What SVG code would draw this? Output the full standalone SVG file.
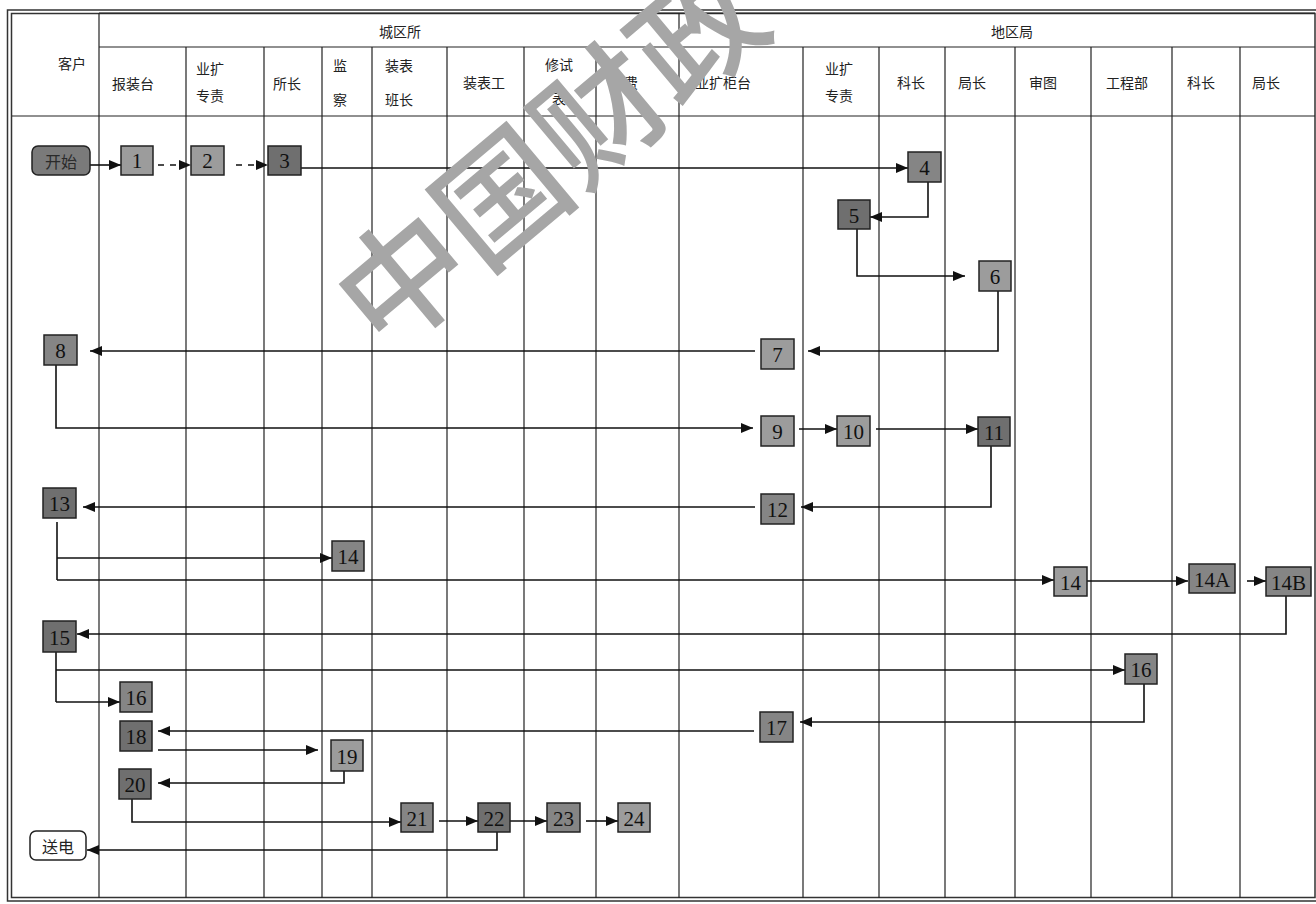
<svg xmlns="http://www.w3.org/2000/svg" width="1316" height="904" viewBox="0 0 1316 904">
<defs>
<marker id="ah" viewBox="0 0 12 10" refX="12" refY="5" markerWidth="12" markerHeight="10" markerUnits="userSpaceOnUse" orient="auto">
<path d="M0,0 L12,5 L0,10 Z" fill="#111"/>
</marker>
<style>
.grid{stroke:#222;stroke-width:1.2;fill:none}
.frame{stroke:#333;stroke-width:1.5;fill:none}
.hd{font-family:"Noto Sans CJK SC","Noto Sans CJK TC",sans-serif;font-size:14px;fill:#222;text-anchor:middle;dominant-baseline:central}
.box{stroke:#222;stroke-width:1.5}
.d{fill:#6f6f6f}.m{fill:#858585}.l{fill:#9c9c9c}
.num{font-family:"Liberation Serif",serif;font-size:21px;fill:#111;text-anchor:middle;dominant-baseline:central}
.con{stroke:#111;stroke-width:1.6;fill:none}
.arr{marker-end:url(#ah)}
.dash{stroke-dasharray:6 6}
.cjk{font-family:"Noto Sans CJK SC",sans-serif;font-size:16px;text-anchor:middle;dominant-baseline:central}
.wm{font-family:"Noto Sans CJK SC",sans-serif;font-size:128px;font-weight:500;fill:#a6a6a6;text-anchor:middle;dominant-baseline:central}
</style>
</defs>
<rect width="1316" height="904" fill="#fff"/>
<g id="frame">
<rect class="frame" x="7.5" y="10" width="1320" height="891"/>
<rect class="frame" x="11.5" y="13.5" width="1303.5" height="884"/>
<line class="grid" x1="99" y1="13" x2="1315" y2="13"/>
<line class="grid" x1="99" y1="47" x2="1315" y2="47"/>
<line class="grid" x1="12" y1="116" x2="1315" y2="116"/>
<line class="grid" x1="99" y1="13" x2="99" y2="898"/>
<line class="grid" x1="679" y1="13" x2="679" y2="898"/>
<path class="grid" d="M186,47V898 M264,47V898 M322,47V898 M372,47V898 M447,47V898 M524,47V898 M596,47V898 M803,47V898 M879,47V898 M945,47V898 M1015,47V898 M1091,47V898 M1172,47V898 M1240,47V898"/>
</g>
<g id="headers">
<text class="hd" x="72" y="63">客户</text>
<text class="hd" x="400" y="31">城区所</text>
<text class="hd" x="1012" y="31">地区局</text>
<text class="hd" x="133" y="83">报装台</text>
<text class="hd" x="210" y="68">业扩</text>
<text class="hd" x="210" y="95">专责</text>
<text class="hd" x="287" y="83">所长</text>
<text class="hd" x="340" y="65">监</text>
<text class="hd" x="340" y="99">察</text>
<text class="hd" x="399" y="65">装表</text>
<text class="hd" x="399" y="99">班长</text>
<text class="hd" x="484" y="82">装表工</text>
<text class="hd" x="559" y="64">修试</text>
<text class="hd" x="559" y="98">表</text>
<text class="hd" x="624" y="82">电费</text>
<text class="hd" x="723" y="82">业扩柜台</text>
<text class="hd" x="839" y="68">业扩</text>
<text class="hd" x="839" y="95">专责</text>
<text class="hd" x="911" y="82">科长</text>
<text class="hd" x="972" y="82">局长</text>
<text class="hd" x="1043" y="82">审图</text>
<text class="hd" x="1127" y="82">工程部</text>
<text class="hd" x="1201" y="82">科长</text>
<text class="hd" x="1266" y="82">局长</text>
</g>
<g id="connectors">
<path class="con arr" d="M90,165H121"/>
<path class="con arr dash" d="M158,165H191"/>
<path class="con arr dash" d="M236,165H268"/>
<path class="con arr" d="M301,168H908"/>
<path class="con arr" d="M928,182V217H870"/>
<path class="con arr" d="M857,229V276H965"/>
<path class="con arr" d="M998,291V351H808"/>
<path class="con arr" d="M755,351H90"/>
<path class="con arr" d="M56,365V428H753"/>
<path class="con arr" d="M799,429H837"/>
<path class="con arr" d="M876,429H978"/>
<path class="con arr" d="M991,446V507H801"/>
<path class="con arr" d="M755,507H83"/>
<path class="con" d="M57,522V580"/>
<path class="con arr" d="M57,558H332"/>
<path class="con arr" d="M57,580H1054"/>
<path class="con arr" d="M1087,581H1188"/>
<path class="con arr" d="M1247,581H1266"/>
<path class="con arr" d="M1286,596V634H77"/>
<path class="con" d="M56,652V702"/>
<path class="con arr" d="M56,670H1125"/>
<path class="con arr" d="M56,702H120"/>
<path class="con arr" d="M1144,684V722H800"/>
<path class="con arr" d="M754,731H158"/>
<path class="con arr" d="M158,750H318"/>
<path class="con arr" d="M344,771V783H158"/>
<path class="con arr" d="M132,799V822H401"/>
<path class="con arr" d="M439,821H478"/>
<path class="con arr" d="M510,821H547"/>
<path class="con arr" d="M586,821H618"/>
<path class="con arr" d="M497,832V850H87"/>
</g>
<g id="start"><rect class="box" x="32" y="146" width="58" height="29" rx="6" fill="#7a7a7a"/><text class="cjk" x="61" y="161" fill="#2a2a2a">开始</text></g>
<g id="n1"><rect class="box l" x="121" y="146" width="32" height="29"/><text class="num" x="137" y="161">1</text></g>
<g id="n2"><rect class="box l" x="191" y="146" width="33" height="29"/><text class="num" x="207.5" y="161">2</text></g>
<g id="n3"><rect class="box d" x="268" y="146" width="33" height="29"/><text class="num" x="284.5" y="161">3</text></g>
<g id="n4"><rect class="box m" x="908" y="152" width="33" height="30"/><text class="num" x="924.5" y="168">4</text></g>
<g id="n5"><rect class="box d" x="838" y="200" width="32" height="29"/><text class="num" x="854" y="216">5</text></g>
<g id="n6"><rect class="box l" x="979" y="261" width="32" height="30"/><text class="num" x="995" y="277">6</text></g>
<g id="n7"><rect class="box l" x="761" y="339" width="33" height="30"/><text class="num" x="777.5" y="355">7</text></g>
<g id="n8"><rect class="box m" x="44" y="335" width="33" height="30"/><text class="num" x="60.5" y="351">8</text></g>
<g id="n9"><rect class="box l" x="761" y="416" width="33" height="30"/><text class="num" x="777.5" y="432">9</text></g>
<g id="n10"><rect class="box l" x="837" y="416" width="33" height="30"/><text class="num" x="853.5" y="432">10</text></g>
<g id="n11"><rect class="box d" x="978" y="417" width="32" height="29"/><text class="num" x="994" y="433">11</text></g>
<g id="n12"><rect class="box m" x="761" y="494" width="33" height="30"/><text class="num" x="777.5" y="510">12</text></g>
<g id="n13"><rect class="box d" x="43" y="488" width="33" height="30"/><text class="num" x="59.5" y="504">13</text></g>
<g id="n14mid"><rect class="box m" x="332" y="541" width="32" height="30"/><text class="num" x="348" y="557">14</text></g>
<g id="n14"><rect class="box l" x="1054" y="567" width="33" height="29"/><text class="num" x="1070.5" y="583">14</text></g>
<g id="n14A"><rect class="box m" x="1189" y="564" width="46" height="29"/><text class="num" x="1212" y="580">14A</text></g>
<g id="n14B"><rect class="box m" x="1266" y="567" width="45" height="29"/><text class="num" x="1288.5" y="583">14B</text></g>
<g id="n15"><rect class="box d" x="43" y="621" width="33" height="31"/><text class="num" x="59.5" y="638">15</text></g>
<g id="n16left"><rect class="box m" x="120" y="682" width="32" height="30"/><text class="num" x="136" y="698">16</text></g>
<g id="n16right"><rect class="box m" x="1125" y="654" width="32" height="30"/><text class="num" x="1141" y="670">16</text></g>
<g id="n17"><rect class="box m" x="760" y="712" width="33" height="30"/><text class="num" x="776.5" y="728">17</text></g>
<g id="n18"><rect class="box d" x="120" y="721" width="32" height="30"/><text class="num" x="136" y="737">18</text></g>
<g id="n19"><rect class="box l" x="331" y="740" width="32" height="31"/><text class="num" x="347" y="757">19</text></g>
<g id="n20"><rect class="box d" x="119" y="769" width="32" height="30"/><text class="num" x="135" y="785">20</text></g>
<g id="n21"><rect class="box m" x="401" y="803" width="32" height="29"/><text class="num" x="417" y="819">21</text></g>
<g id="n22"><rect class="box d" x="478" y="803" width="32" height="29"/><text class="num" x="494" y="819">22</text></g>
<g id="n23"><rect class="box m" x="547" y="803" width="33" height="29"/><text class="num" x="563.5" y="819">23</text></g>
<g id="n24"><rect class="box l" x="618" y="803" width="32" height="29"/><text class="num" x="634" y="819">24</text></g>
<g id="end"><rect class="box" x="30" y="831" width="56" height="29" rx="6" fill="#fff"/><text class="cjk" x="58" y="846" fill="#222">送电</text></g>
<g id="watermark"><text class="wm" transform="translate(545,150) rotate(-40)">中国财政</text></g>
</svg>
